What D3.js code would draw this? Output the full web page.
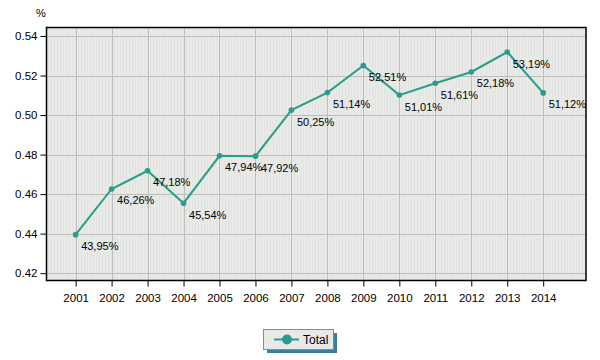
<!DOCTYPE html>
<html><head><meta charset="utf-8">
<script src="https://cdn.jsdelivr.net/npm/d3@7"></script>
<style>body{margin:0;background:#fff;} text{font-family:"Liberation Sans",Arial,sans-serif;}</style>
</head><body><svg id="c" width="600" height="360"></svg>
<script>
const years = [2001,2002,2003,2004,2005,2006,2007,2008,2009,2010,2011,2012,2013,2014];
const totalValues = [0.4395,0.4626,0.4718,0.4554,0.4794,0.4792,0.5025,0.5114,0.5251,0.5101,0.5161,0.5218,0.5319,0.5112];
const yTicks = [0.42,0.44,0.46,0.48,0.50,0.52,0.54];
const seriesName = "Total";

const svg = d3.select("#c");
const L=46.5, T=27.5, R=586, B=280.5;
const x = d3.scaleLinear().domain([2000.19,2015.19]).range([L,R]);
const y = d3.scaleLinear().domain([0.4163,0.5443]).range([B,T]);
const col = "#2a9d8a";

const defs = svg.append("defs");
const pat = defs.append("pattern").attr("id","str").attr("width",3).attr("height",3).attr("patternUnits","userSpaceOnUse");
pat.append("rect").attr("width",3).attr("height",3).attr("fill","#e9eae8");
pat.append("rect").attr("width",1).attr("height",3).attr("fill","#e2e4e1");

svg.append("rect").attr("x",L).attr("y",T).attr("width",R-L).attr("height",B-T).attr("fill","url(#str)");

// grid
svg.append("g").selectAll("line").data(yTicks).join("line")
  .attr("x1",L).attr("x2",R).attr("y1",d=>Math.round(y(d))+0.5).attr("y2",d=>Math.round(y(d))+0.5)
  .attr("stroke","#bdbdbd").attr("stroke-width",1);
svg.append("g").selectAll("line").data(years).join("line")
  .attr("y1",T).attr("y2",B).attr("x1",d=>Math.round(x(d))+0.5).attr("x2",d=>Math.round(x(d))+0.5)
  .attr("stroke","#bdbdbd").attr("stroke-width",1);

// axes
const xa = svg.append("g").attr("transform",`translate(0,${B})`)
  .call(d3.axisBottom(x).tickValues(years).tickFormat(d3.format("d")).tickSize(6).tickSizeOuter(0));
const ya = svg.append("g").attr("transform",`translate(${L},0)`)
  .call(d3.axisLeft(y).tickValues(yTicks).tickFormat(d3.format(".2f")).tickSize(6).tickSizeOuter(0));
[xa,ya].forEach(a=>{
  a.select(".domain").remove();
  a.selectAll("line").attr("stroke","#000");
  a.selectAll("text").attr("font-size","11.5px").attr("fill","#000").attr("font-family","Liberation Sans, Arial, sans-serif");
});
xa.selectAll("text").attr("dy","1.05em");
ya.selectAll("text").attr("x",-9);

svg.append("rect").attr("x",L).attr("y",T).attr("width",R-L).attr("height",B-T)
  .attr("fill","none").attr("stroke","#000").attr("stroke-width",1.5);

svg.append("text").attr("x",36).attr("y",17).attr("font-size","11px").text("%");

// line
const line = d3.line().x((d,i)=>x(years[i])).y(d=>y(d));
svg.append("path").datum(totalValues).attr("d",line).attr("fill","none").attr("stroke",col).attr("stroke-width",2);
svg.append("g").selectAll("circle").data(totalValues).join("circle")
  .attr("cx",(d,i)=>x(years[i])).attr("cy",d=>y(d)).attr("r",2.8).attr("fill",col);
svg.append("g").selectAll("text").data(totalValues).join("text")
  .attr("x",(d,i)=>x(years[i])+5.5).attr("y",d=>y(d)+15.5).attr("font-size","11px").attr("fill","#000")
  .text(d=>(d*100).toFixed(2).replace(".",",")+"%");

// legend
const lg = svg.append("g");
lg.append("rect").attr("x",267).attr("y",333).attr("width",70).attr("height",20).attr("fill","#3a7f9c");
lg.append("rect").attr("x",263.5).attr("y",329.5).attr("width",70).attr("height",20).attr("fill","#e8e8e8").attr("stroke","#8a8a8a");
lg.append("line").attr("x1",274).attr("x2",299).attr("y1",339.5).attr("y2",339.5).attr("stroke",col).attr("stroke-width",2);
lg.append("circle").attr("cx",287).attr("cy",339.5).attr("r",5).attr("fill",col);
lg.append("text").attr("x",303).attr("y",344).attr("font-size","12px").text(seriesName);
</script></body></html>
